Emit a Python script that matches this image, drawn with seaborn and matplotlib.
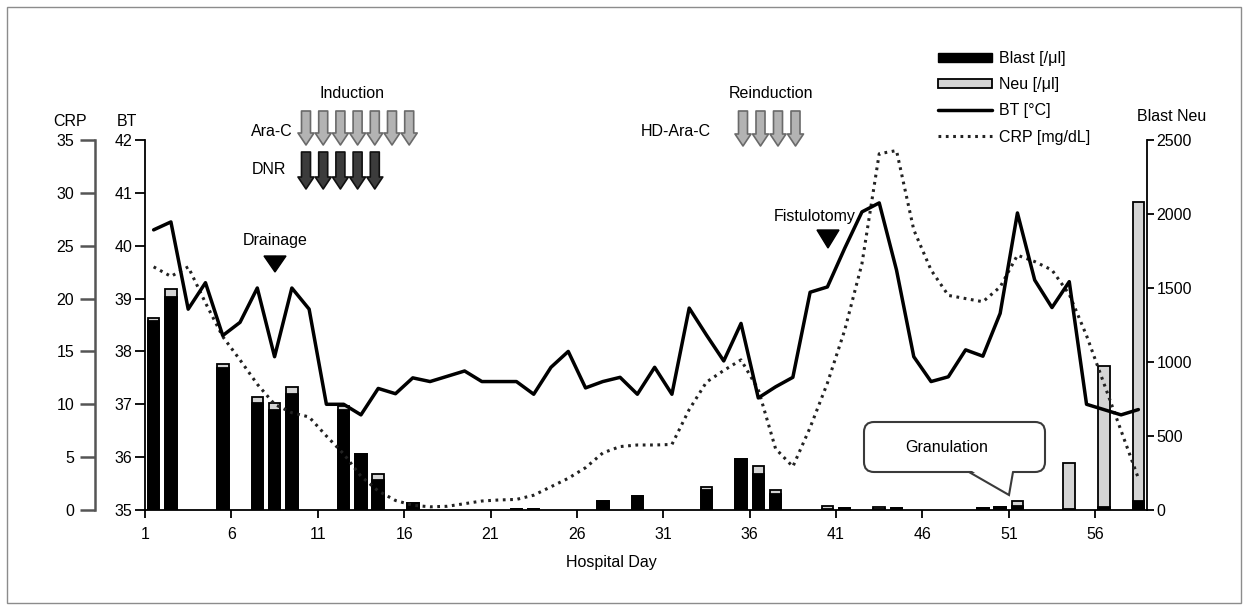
import numpy as np
import pandas as pd
import matplotlib
matplotlib.use("Agg")
import matplotlib.pyplot as plt
import seaborn as sns
from matplotlib.patches import Polygon, FancyBboxPatch, Rectangle, Patch
from matplotlib.lines import Line2D

# ---------------- data ----------------
days = list(range(1, 59))
bt = [40.3, 40.45, 38.8, 39.3, 38.3, 38.55, 39.2, 37.9, 39.2, 38.8,
      37.0, 37.0, 36.8, 37.3, 37.2, 37.5, 37.43, 37.53, 37.63, 37.43,
      37.43, 37.43, 37.19, 37.7, 38.0, 37.31, 37.43, 37.51, 37.19, 37.7,
      37.19, 38.82, 38.31, 37.82, 38.53, 37.12, 37.33, 37.51, 39.12, 39.22,
      39.95, 40.64, 40.81, 39.54, 37.9, 37.43, 37.52, 38.03, 37.91, 38.72,
      40.62, 39.35, 38.83, 39.32, 37.0, 36.9, 36.8, 36.9]
crp = [23.0, 22.1, 23.0, 19.6, 16.4, 14.2, 11.9, 10.0, 9.2, 8.8,
       7.0, 5.3, 3.2, 1.8, 0.9, 0.45, 0.3, 0.35, 0.6, 0.85,
       0.95, 1.0, 1.4, 2.2, 3.0, 4.0, 5.4, 6.0, 6.15, 6.15,
       6.2, 9.5, 12.1, 13.2, 14.2, 11.4, 5.8, 4.1, 7.8, 12.0,
       17.0, 23.3, 33.7, 34.0, 26.5, 22.7, 20.3, 20.0, 19.7, 21.1,
       24.1, 23.5, 22.7, 20.4, 16.5, 12.0, 7.5, 3.0]
bar_days = [1, 2, 5, 7, 8, 9, 12, 13, 14, 16, 22, 23, 27, 29, 33, 35, 36, 37,
            40, 41, 43, 44, 49, 50, 51, 54, 56, 58]
blast = [1275, 1440, 957, 725, 676, 781, 676, 376, 203, 45, 8, 8, 61, 95, 138,
         345, 243, 106, 8, 12, 5, 12, 12, 23, 27, 5, 20, 63]
neu = [20, 50, 27, 36, 45, 52, 27, 0, 40, 0, 0, 0, 0, 0, 15, 0, 54, 29, 22, 0,
       18, 0, 0, 0, 36, 310, 953, 2016]
x_ticks = [1, 6, 11, 16, 21, 26, 31, 36, 41, 46, 51, 56]
bt_ticks = [35, 36, 37, 38, 39, 40, 41, 42]
crp_ticks = [0, 5, 10, 15, 20, 25, 30, 35]
cell_ticks = [0, 500, 1000, 1500, 2000, 2500]
legend_labels = ["Blast [/\u03bcl]", "Neu [/\u03bcl]", "BT [\u00b0C]", "CRP [mg/dL]"]

# ---------------- style ----------------
sns.set_style("ticks")
plt.rcParams["font.family"] = ["Liberation Sans", "DejaVu Sans"]
plt.rcParams["font.size"] = 11
plt.rcParams["text.color"] = "black"
plt.rcParams["xtick.color"] = "black"
plt.rcParams["ytick.color"] = "black"

W, H = 1249, 611
fig = plt.figure(figsize=(W / 100, H / 100), dpi=100)
L, R, T, B = 145, 1147, 140, 510
ax = fig.add_axes([L / W, 1 - B / H, (R - L) / W, (B - T) / H])
ax_r = ax.twinx()
ax_c = ax.twinx()
ax_r.set_zorder(1)
ax_c.set_zorder(2)
ax.set_zorder(3)
for a in (ax, ax_r, ax_c):
    a.patch.set_visible(False)

OFF = 0.5  # values are centred within each hospital-day slot
df_bars = pd.DataFrame({"x": np.array(bar_days) + OFF,
                        "blast": blast,
                        "total": np.array(blast) + np.array(neu)})
sns.barplot(data=df_bars, x="x", y="total", native_scale=True, color="#d4d4d4",
            saturation=1, edgecolor="black", linewidth=1.3, width=0.67,
            errorbar=None, ax=ax_r)
sns.barplot(data=df_bars, x="x", y="blast", native_scale=True, color="black",
            saturation=1, edgecolor="black", linewidth=1.3, width=0.67,
            errorbar=None, ax=ax_r)

xd = np.array(days) + OFF
sns.lineplot(x=xd, y=crp, ax=ax_c, color="#222222", linewidth=2.2,
             linestyle=(0, (0.9, 1.5)))
sns.lineplot(x=xd, y=bt, ax=ax, color="black", linewidth=2.5)

ax.set_xlim(1, 59)
ax.set_ylim(35, 42)
ax_r.set_ylim(0, 2500)
ax_c.set_ylim(0, 35)
ax.set_xticks(x_ticks)
ax.set_xticklabels([str(t) for t in x_ticks])
ax.set_yticks(bt_ticks)
ax_r.set_yticks(cell_ticks)
ax_c.set_yticks(crp_ticks)
for a in (ax, ax_r, ax_c):
    a.set_xlabel("")
    a.set_ylabel("")

for s in ("top", "right"):
    ax.spines[s].set_visible(False)
for s in ("left", "bottom"):
    ax.spines[s].set_linewidth(1.3)
    ax.spines[s].set_color("black")
for s in ("top", "left", "bottom"):
    ax_r.spines[s].set_visible(False)
ax_r.spines["right"].set_linewidth(1.3)
ax_r.spines["right"].set_color("black")
for s in ("top", "right", "bottom"):
    ax_c.spines[s].set_visible(False)
ax_c.spines["left"].set_visible(True)
ax_c.spines["left"].set_position(("axes", -50 / (R - L)))
ax_c.spines["left"].set_linewidth(1.8)
ax_c.spines["left"].set_color("#555555")
ax_c.yaxis.set_ticks_position("left")
ax_c.yaxis.set_label_position("left")

ax.tick_params(axis="x", direction="out", length=6, width=1.3, labelsize=11.5, pad=6)
ax.tick_params(axis="y", direction="out", length=7, width=1.3, labelsize=11.5, pad=2)
ax_c.tick_params(axis="y", direction="out", length=11, width=1.8, color="#555555",
                 labelcolor="black", labelsize=11.5, pad=4)
ax_r.tick_params(axis="y", direction="out", length=5, width=1.3, labelsize=11.5, pad=2)

fig.text(70 / W, 1 - 121 / H, "CRP", ha="center", va="center", fontsize=11.5)
fig.text(127 / W, 1 - 121 / H, "BT", ha="center", va="center", fontsize=11.5)
fig.text(1172 / W, 1 - 117 / H, "Blast Neu", ha="center", va="center", fontsize=11.5)
fig.text(611 / W, 1 - 563 / H, "Hospital Day", ha="center", va="center", fontsize=11.5)

handles = [Patch(facecolor="black", edgecolor="black"),
           Patch(facecolor="#d4d4d4", edgecolor="black", linewidth=1.3),
           Line2D([], [], color="black", lw=2.5),
           Line2D([], [], color="#222222", lw=2.2, linestyle=(0, (0.9, 1.5)))]
fig.legend(handles, legend_labels, loc="upper left",
           bbox_to_anchor=(938 / W, 1 - 51 / H), frameon=False, fontsize=11.5,
           handlelength=3.4, handleheight=0.5, labelspacing=0.7,
           handletextpad=0.45, borderpad=0, borderaxespad=0)

# ---------------- annotations (overlay in pixel coordinates) ----------------
ov = fig.add_axes([0, 0, 1, 1], zorder=10)
ov.set_xlim(0, W)
ov.set_ylim(H, 0)
ov.axis("off")
ov.patch.set_visible(False)


def down_arrow(xc, ytop, ybot, fc, ec, shaft=9, head=16, headlen=12):
    pts = [(xc - shaft / 2, ytop), (xc + shaft / 2, ytop),
           (xc + shaft / 2, ybot - headlen), (xc + head / 2, ybot - headlen),
           (xc, ybot), (xc - head / 2, ybot - headlen),
           (xc - shaft / 2, ybot - headlen)]
    ov.add_patch(Polygon(pts, closed=True, facecolor=fc, edgecolor=ec, lw=1.2,
                         joinstyle="round"))


for i in range(7):
    down_arrow(306 + i * 17.2, 111, 145, "#b3b3b3", "#6a6a6a")
for i in range(5):
    down_arrow(306 + i * 17.2, 152, 189, "#3c3c3c", "#111111")
for i in range(4):
    down_arrow(743 + i * 17.5, 111, 146, "#b3b3b3", "#6a6a6a")

fs = 11.5
ov.text(352, 94, "Induction", ha="center", va="center", fontsize=fs)
ov.text(293, 131, "Ara-C", ha="right", va="center", fontsize=fs)
ov.text(286, 169, "DNR", ha="right", va="center", fontsize=fs)
ov.text(771, 94, "Reinduction", ha="center", va="center", fontsize=fs)
ov.text(676, 131, "HD-Ara-C", ha="center", va="center", fontsize=fs)
ov.text(275, 240, "Drainage", ha="center", va="center", fontsize=fs)
ov.text(815, 217, "Fistulotomy", ha="center", va="center", fontsize=fs)
ov.add_patch(Polygon([(264, 256), (286, 256), (275, 272)], closed=True,
                     facecolor="black", edgecolor="black"))
ov.add_patch(Polygon([(817, 230), (839, 230), (828, 248)], closed=True,
                     facecolor="black", edgecolor="black"))

# Granulation callout
ov.add_patch(FancyBboxPatch((864, 422), 181, 50,
                            boxstyle="round,pad=0,rounding_size=10",
                            facecolor="white", edgecolor="#3a3a3a", lw=1.5))
ov.add_patch(Polygon([(969, 469), (1009, 495), (1013, 469)], closed=True,
                     facecolor="white", edgecolor="none"))
ov.plot([969, 1009, 1013], [472, 495, 472], color="#3a3a3a", lw=1.5,
        solid_joinstyle="miter")
ov.text(947, 447, "Granulation", ha="center", va="center", fontsize=fs)

# outer frame
ov.add_patch(Rectangle((7, 7), 1234, 596, fill=False, edgecolor="#8c8c8c", lw=1))

fig.savefig("out.png", dpi=100)
